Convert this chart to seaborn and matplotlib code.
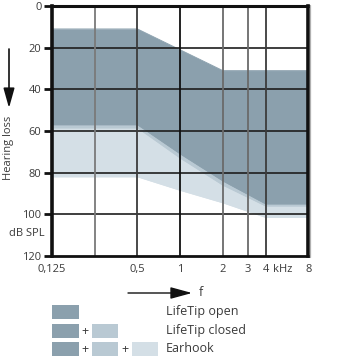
import matplotlib
matplotlib.use("Agg")
import matplotlib.pyplot as plt
import seaborn as sns
import pandas as pd
from matplotlib.patches import Rectangle

# Frequency points (kHz) and hearing-loss boundaries (dB SPL)
freq = [0.125, 0.5, 1, 2, 4, 8]
open_top = [11, 11, 21, 31, 31, 31]
open_bottom = [57, 57, 71, 84, 95, 95]
closed_bottom = [58.5, 58.5, 73, 86, 96, 96]
earhook_bottom = [82, 82, 88.5, 94.5, 101.5, 101.5]

x_ticks = [0.125, 0.5, 1, 2, 3, 4, 8]
x_labels = ["0,125", "0,5", "1", "2", "3", "4", "8"]
y_ticks = [0, 20, 40, 60, 80, 100, 120]

legend_labels = ["LifeTip open", "LifeTip closed", "Earhook"]

c_dark = "#8ba0ad"
c_mid = "#b9c9d3"
c_light = "#d4dfe6"
txt = "#3a3a3a"

sns.set_theme(style="white")
plt.rcParams["font.family"] = ["Open Sans", "DejaVu Sans"]

df = pd.DataFrame({
    "freq": freq,
    "top": open_top,
    "open": open_bottom,
    "closed": closed_bottom,
    "earhook": earhook_bottom,
})

W, H = 340, 360
fig = plt.figure(figsize=(W / 100, H / 100), dpi=100)
ax = fig.add_axes([52 / W, 1 - 256 / H, (308.3 - 52) / W, 250 / H])

# stacked regions: widest range first, narrowest on top
for col, color in [("earhook", c_light), ("closed", c_mid), ("open", c_dark)]:
    ax.fill_between(df["freq"], df["top"], df[col], color=color, lw=0, zorder=1)
    sns.lineplot(data=df, x="freq", y=col, ax=ax, color=color, lw=0.6, zorder=1.1)
sns.lineplot(data=df, x="freq", y="top", ax=ax, color=c_dark, lw=0.6, zorder=1.1)

ax.set_xscale("log", base=2)
ax.set_xlim(0.125, 8)
ax.set_ylim(120, 0)
ax.set_xlabel("")
ax.set_ylabel("")

# grid
for y in [20, 40, 60, 80, 100]:
    ax.axhline(y, color="#1e1e1e", lw=1.2, zorder=3)
for xv, col in [(0.25, "#7a7a7a"), (0.5, "#3c3c3c"), (1, "#111111"),
                (2, "#6a6a6a"), (3, "#6a6a6a"), (4, "#3c3c3c")]:
    ax.axvline(xv, color=col, lw=1.3, zorder=3)

ax.set_xticks(x_ticks)
ax.set_xticklabels(x_labels)
ax.minorticks_off()
ax.set_yticks(y_ticks)
ax.tick_params(axis="x", length=0, pad=6, labelsize=8, labelcolor=txt)
ax.tick_params(axis="y", left=True, length=6, width=2, color="#111111",
               pad=1.5, labelsize=8, labelcolor=txt)

for side, lw in [("top", 2.2), ("left", 2.6), ("bottom", 2.0), ("right", 2.6)]:
    ax.spines[side].set_visible(True)
    ax.spines[side].set_color("#111111")
    ax.spines[side].set_linewidth(lw)
    ax.spines[side].set_zorder(4)

# overlay in pixel coordinates for annotations and legend
ov = fig.add_axes([0, 0, 1, 1], zorder=5)
ov.set_xlim(0, W)
ov.set_ylim(H, 0)
ov.axis("off")
ov.patch.set_alpha(0)

ov.plot([310.3, 310.3], [5, 257], color="#b0b0b0", lw=0.9)

ov.text(283, 270, "kHz", fontsize=8, color=txt, ha="center", va="center")
ov.text(45, 234, "dB SPL", fontsize=8, color=txt, ha="right", va="center")

ov.text(9, 148, "Hearing loss", fontsize=8, color=txt, rotation=90,
        ha="center", va="center")
ov.annotate("", xy=(9, 108), xytext=(9, 49),
            arrowprops=dict(arrowstyle="-|>,head_length=1.0,head_width=0.28",
                            color="#111111", lw=1.2, shrinkA=0, shrinkB=0))

ov.annotate("", xy=(192, 293), xytext=(128, 293),
            arrowprops=dict(arrowstyle="-|>,head_length=1.1,head_width=0.3",
                            color="#111111", lw=1.0, shrinkA=0, shrinkB=0))
ov.text(201, 292, "f", fontsize=9, color=txt, ha="center", va="center")

# legend: one row per configuration
row_y = [305, 323.5, 342]
box_x = [52, 91.5, 131.5]
box_w, box_h = 26.5, 14
swatches = [c_dark, c_mid, c_light]
for i, (ry, label) in enumerate(zip(row_y, legend_labels)):
    for j in range(i + 1):
        ov.add_patch(Rectangle((box_x[j], ry), box_w, box_h,
                               facecolor=swatches[j], edgecolor="none"))
        if j > 0:
            ov.text(box_x[j] - 6.5, ry + box_h / 2 + 0.5, "+", fontsize=9,
                    color=txt, ha="center", va="center")
    ov.text(165.5, ry + box_h / 2, label, fontsize=9, color=txt,
            ha="left", va="center")

fig.savefig("out.png", dpi=100)
